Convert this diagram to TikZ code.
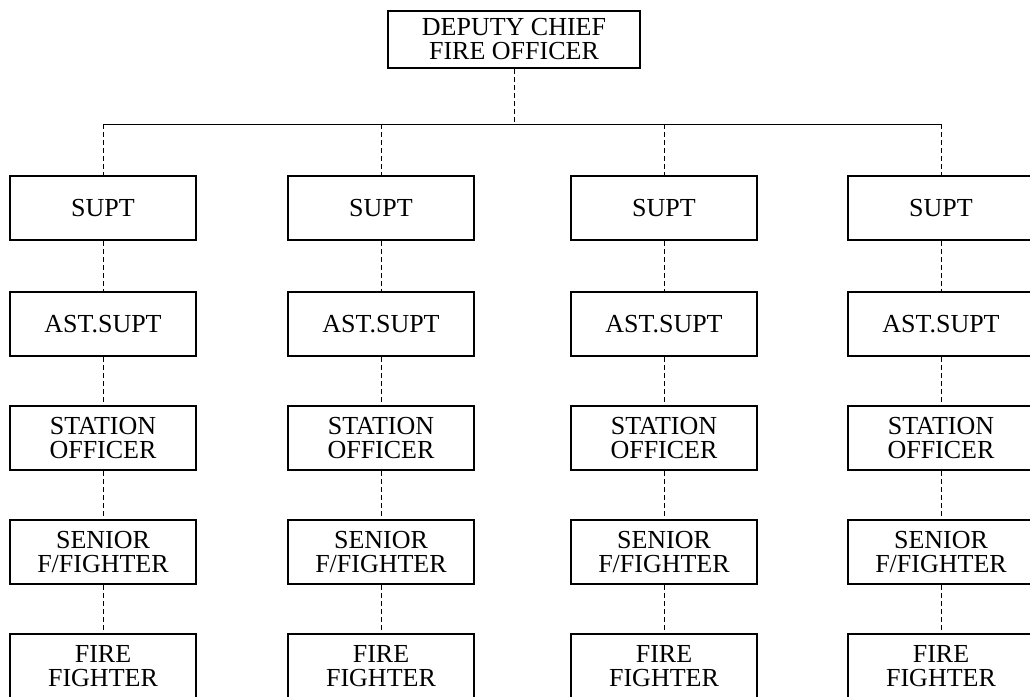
\documentclass[tikz,border=0pt]{standalone}
\usepackage{fontspec}
\setmainfont{Liberation Serif}
\tikzset{
    post/.style={rectangle, draw, line width=0.8pt, minimum width=93pt, minimum height=32pt,
        align=center, inner sep=1pt, font=\fontsize{13}{12}\selectfont},
    link/.style={line width=0.5pt, dash pattern=on 2.5pt off 1.5pt}
}
\begin{document}
\begin{tikzpicture}[x=0.5pt, y=-0.5pt]
        \useasboundingbox (0,0) rectangle (1030,697);

        \node[post, minimum width=126pt, minimum height=28.5pt] (dcfo) at (514,39.5) {DEPUTY CHIEF\\FIRE OFFICER};
        \coordinate (bar) at (514,124);

        \node[post] (supt1) at (103,208) {SUPT};
        \node[post] (supt2) at (381,208) {SUPT};
        \node[post] (supt3) at (664,208) {SUPT};
        \node[post] (supt4) at (941,208) {SUPT};

        \node[post] (ast1) at (103,324) {AST.SUPT};
        \node[post] (ast2) at (381,324) {AST.SUPT};
        \node[post] (ast3) at (664,324) {AST.SUPT};
        \node[post] (ast4) at (941,324) {AST.SUPT};

        \node[post] (sto1) at (103,438) {STATION\\OFFICER};
        \node[post] (sto2) at (381,438) {STATION\\OFFICER};
        \node[post] (sto3) at (664,438) {STATION\\OFFICER};
        \node[post] (sto4) at (941,438) {STATION\\OFFICER};

        \node[post] (sff1) at (103,552) {SENIOR\\F/FIGHTER};
        \node[post] (sff2) at (381,552) {SENIOR\\F/FIGHTER};
        \node[post] (sff3) at (664,552) {SENIOR\\F/FIGHTER};
        \node[post] (sff4) at (941,552) {SENIOR\\F/FIGHTER};

        \node[post] (ff1) at (103,666) {FIRE\\FIGHTER};
        \node[post] (ff2) at (381,666) {FIRE\\FIGHTER};
        \node[post] (ff3) at (664,666) {FIRE\\FIGHTER};
        \node[post] (ff4) at (941,666) {FIRE\\FIGHTER};

        % deputy chief down to the four branches
        \draw[link] (dcfo) -- (bar);
        \draw[line width=0.5pt] (supt1 |- bar) -- (supt4 |- bar);
        \draw[link] (supt1 |- bar) -- (supt1);
        \draw[link] (supt2 |- bar) -- (supt2);
        \draw[link] (supt3 |- bar) -- (supt3);
        \draw[link] (supt4 |- bar) -- (supt4);

        \draw[link] (supt1) -- (ast1);
        \draw[link] (supt2) -- (ast2);
        \draw[link] (supt3) -- (ast3);
        \draw[link] (supt4) -- (ast4);

        \draw[link] (ast1) -- (sto1);
        \draw[link] (ast2) -- (sto2);
        \draw[link] (ast3) -- (sto3);
        \draw[link] (ast4) -- (sto4);

        \draw[link] (sto1) -- (sff1);
        \draw[link] (sto2) -- (sff2);
        \draw[link] (sto3) -- (sff3);
        \draw[link] (sto4) -- (sff4);

        \draw[link] (sff1) -- (ff1);
        \draw[link] (sff2) -- (ff2);
        \draw[link] (sff3) -- (ff3);
        \draw[link] (sff4) -- (ff4);

    \end{tikzpicture}
\end{document}
